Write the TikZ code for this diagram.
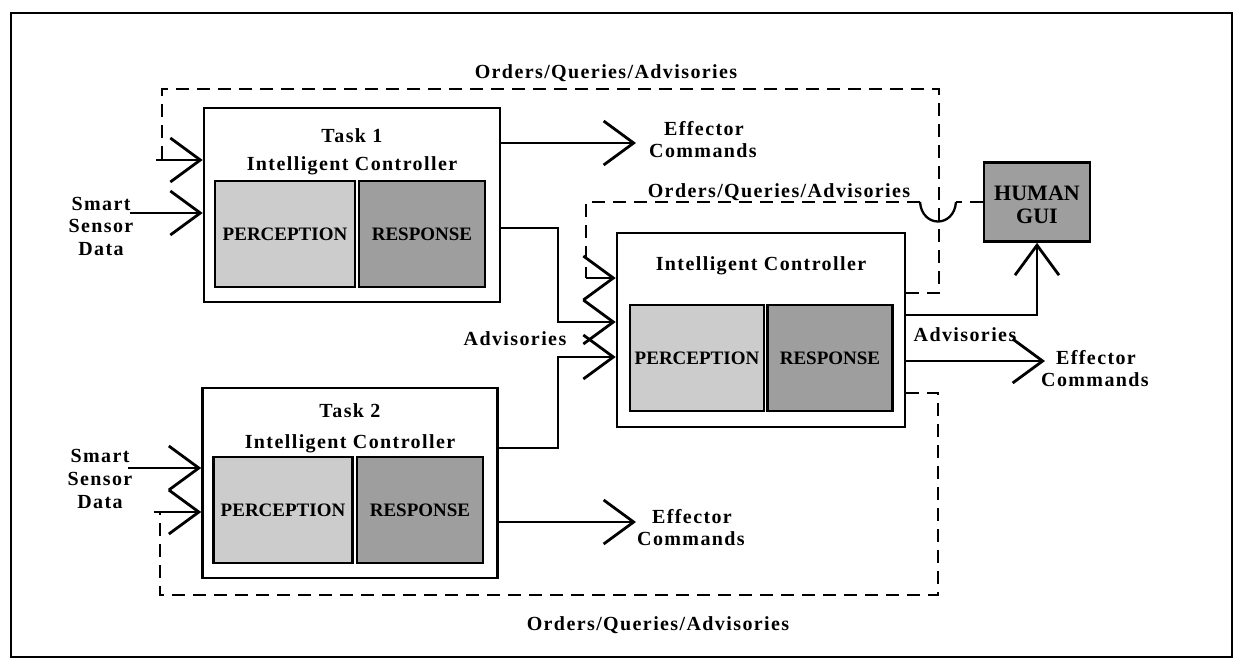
\documentclass[tikz,border=0pt]{standalone}
\usepackage{fontspec}
\newfontfamily\diafont{Liberation Serif}[LetterSpace=7]
\newfontfamily\partfont{Liberation Serif}
\usetikzlibrary{arrows.meta}

\tikzset{
    unit/.style={draw, line width=2.6pt, fill=white, inner sep=0pt},
    part/.style={draw, line width=2.4pt, inner sep=0pt, minimum width=#1,
        minimum height=106pt, font=\partfont\bfseries\fontsize{19}{19}\selectfont},
    perc/.style={part=#1, fill=black!20},
    resp/.style={part=#1, fill=black!38},
    lbl/.style={font=\diafont\bfseries\fontsize{20}{24}\selectfont, inner sep=0pt, anchor=base},
    wire/.style={line width=2.3pt},
    arr/.style={wire, -{Straight Barb[length=30pt, width=44pt, line width=2.8pt]}},
    order/.style={wire, dash pattern=on 13pt off 8pt},
}

\begin{document}
\begin{tikzpicture}[x=1pt, y=-1pt]
    \useasboundingbox (0,0) rectangle (1239,662);
    \draw [line width=2.2pt] (11,13) rectangle (1232,657);

    % the three controllers
    \node [unit, minimum width=296pt, minimum height=194pt] (t1) at (352,205) {};
    \node [perc=140pt] (p1) at (285,234) {PERCEPTION};
    \node [resp=126pt] (r1) at (422,234) {RESPONSE};
    \node [lbl] (t1a) at (352,142) {Task 1};
    \node [lbl] (t1b) at (352,170) {Intelligent Controller};

    \node [unit, minimum width=295pt, minimum height=190pt] (t2) at (350,483) {};
    \node [perc=139pt] (p2) at (283,510) {PERCEPTION};
    \node [resp=126pt] (r2) at (420,510) {RESPONSE};
    \node [lbl] (t2a) at (350,417) {Task 2};
    \node [lbl] (t2b) at (350,448) {Intelligent Controller};

    \node [unit, minimum width=288pt, minimum height=194pt] (t3) at (761,330) {};
    \node [perc=134pt] (p3) at (697,358) {PERCEPTION};
    \node [resp=125pt] (r3) at (830,358) {RESPONSE};
    \node [lbl] (t3a) at (761,270) {Intelligent Controller};

    \node [draw, line width=2.6pt, fill=black!38, minimum width=106pt,
        minimum height=79pt] (gui) at (1037,202) {};
    \foreach \w/\y in {HUMAN/200, GUI/223}
        \node [lbl, font=\partfont\bfseries\fontsize{22}{22}\selectfont] at (1037,\y) {\w};

    % labels
    \foreach \w [count=\i] in {Smart, Sensor, Data} {
        \node [lbl] (s1\i) at (101, 187.5+22.5*\i) {\w};
        \node [lbl] (s2\i) at (100, 439+23*\i) {\w};
    }
    \foreach \x/\y [count=\i] in {704/135, 692/523, 1096/364} {
        \node [lbl] (ef\i) at (\x,\y) {Effector};
        \node [lbl] (ec\i) at (\x-1,\y+22) {Commands};
    }
    \node [lbl] (oq1) at (606,78) {Orders/Queries/Advisories};
    \node [lbl] (oq2) at (779,197) {Orders/Queries/Advisories};
    \node [lbl] (oq3) at (658,630) {Orders/Queries/Advisories};
    \node [lbl] (adv1) at (515,345) {Advisories};
    \node [lbl] (adv2) at (965,341) {Advisories};

    % corners
    \coordinate (qa) at (939,293);
    \coordinate (qb) at (939,89);
    \coordinate (qc) at (162,89);
    \coordinate (qd) at (162,160);
    \coordinate (qe) at (156,160);
    \coordinate (ha) at (956,202);
    \coordinate (hb) at (920,202);
    \coordinate (ma) at (586,202);
    \coordinate (mb) at (586,278);
    \coordinate (ba) at (938,393);
    \coordinate (bb) at (938,595);
    \coordinate (bc) at (160,595);
    \coordinate (bd) at (160,512);
    \coordinate (be) at (154,512);
    \coordinate (ka) at (558,228);
    \coordinate (kb) at (558,322);
    \coordinate (la) at (558,448);
    \coordinate (lb) at (558,357);
    \coordinate (ga) at (1037,315);
    \coordinate (e1) at (636,143);
    \coordinate (e2) at (636,522);
    \coordinate (e3) at (1045,361);
    \coordinate (d1) at (130,213);
    \coordinate (d2) at (128,468);

    % orders
    \draw [order] (t3.east |- qa) -- (qa) -- (qb) -- (qc) -- (qd);
    \draw [arr] (qe) -- (t1.west |- qe);
    \draw [order] (gui.west) -- (ha);
    \draw [wire] (ha) .. controls (954,228) and (922,228) .. (hb);
    \draw [order] (hb) -- (ma) -- (mb);
    \draw [arr] (mb) -- (t3.west |- mb);
    \draw [order] (t3.east |- ba) -- (ba) -- (bb) -- (bc) -- (bd);
    \draw [arr] (be) -- (t2.west |- be);

    % data
    \draw [arr] (d1) -- (t1.west |- d1);
    \draw [arr] (d2) -- (t2.west |- d2);
    \draw [arr] (t1.east |- ka) -- (ka) -- (kb) -- (t3.west |- kb);
    \draw [arr] (t2.east |- la) -- (la) -- (lb) -- (t3.west |- lb);
    \draw [arr] (t3.east |- ga) -| (gui.south);
    \draw [arr] (t1.east |- e1) -- (e1);
    \draw [arr] (t2.east |- e2) -- (e2);
    \draw [arr] (t3.east |- e3) -- (e3);
\end{tikzpicture}
\end{document}
